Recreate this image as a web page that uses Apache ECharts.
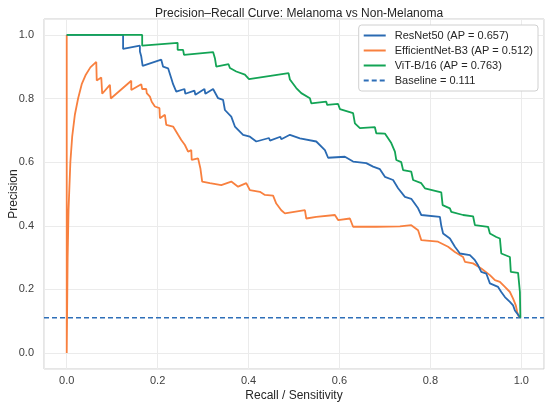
<!DOCTYPE html>
<html>
<head>
<meta charset="utf-8">
<script src="https://cdn.jsdelivr.net/npm/echarts@6/dist/echarts.min.js"></script>
<style>
  html, body { margin: 0; padding: 0; background: #fff; }
  #main { width: 550px; height: 406px; }
</style>
</head>
<body>
<div id="main"></div>
<script>
// [recall, precision]
var resnetPts = [
  [0, 1.0], [0.124, 1.0], [0.124, 0.956], [0.161, 0.966], [0.161, 0.948], [0.164, 0.932],
  [0.167, 0.903], [0.208, 0.922], [0.212, 0.900], [0.223, 0.895], [0.230, 0.864], [0.234, 0.845],
  [0.241, 0.822], [0.259, 0.830], [0.261, 0.815], [0.281, 0.825], [0.283, 0.812], [0.303, 0.830],
  [0.305, 0.815], [0.322, 0.830], [0.333, 0.801], [0.344, 0.796], [0.348, 0.764], [0.362, 0.743],
  [0.370, 0.712], [0.388, 0.686], [0.403, 0.680], [0.417, 0.665], [0.445, 0.676], [0.447, 0.668],
  [0.470, 0.680], [0.472, 0.672], [0.491, 0.686], [0.513, 0.675], [0.549, 0.665], [0.568, 0.638],
  [0.575, 0.614], [0.612, 0.617], [0.630, 0.602], [0.659, 0.597], [0.674, 0.586], [0.689, 0.578],
  [0.700, 0.554], [0.718, 0.544], [0.729, 0.518], [0.744, 0.491], [0.758, 0.485], [0.773, 0.455],
  [0.780, 0.434], [0.821, 0.428], [0.824, 0.400], [0.828, 0.376], [0.843, 0.360], [0.854, 0.334],
  [0.865, 0.313], [0.887, 0.308], [0.898, 0.292], [0.905, 0.276], [0.912, 0.255], [0.923, 0.250],
  [0.931, 0.219], [0.949, 0.208], [0.956, 0.192], [0.964, 0.176], [0.975, 0.161], [0.982, 0.150],
  [0.986, 0.134], [0.997, 0.113]
];

var effnetPts = [
  [0, 1.0], [0, 0.0], [0.002, 0.30], [0.004, 0.45], [0.008, 0.60], [0.012, 0.68], [0.018, 0.75],
  [0.025, 0.80], [0.033, 0.845], [0.042, 0.875], [0.052, 0.898], [0.065, 0.915], [0.066, 0.857],
  [0.076, 0.866], [0.078, 0.815], [0.095, 0.843], [0.097, 0.800], [0.142, 0.856], [0.142, 0.827],
  [0.164, 0.845], [0.166, 0.830], [0.175, 0.830], [0.176, 0.817], [0.183, 0.806], [0.187, 0.790],
  [0.194, 0.775], [0.204, 0.770], [0.205, 0.738], [0.216, 0.749], [0.219, 0.717], [0.234, 0.712],
  [0.245, 0.686], [0.252, 0.670], [0.260, 0.654], [0.267, 0.633], [0.274, 0.638], [0.275, 0.607],
  [0.289, 0.612], [0.294, 0.581], [0.298, 0.539], [0.315, 0.534], [0.340, 0.528], [0.362, 0.539],
  [0.377, 0.523], [0.395, 0.534], [0.403, 0.512], [0.425, 0.507], [0.436, 0.497], [0.454, 0.495],
  [0.461, 0.470], [0.472, 0.449], [0.480, 0.439], [0.524, 0.449], [0.527, 0.423], [0.549, 0.428],
  [0.590, 0.434], [0.597, 0.418], [0.623, 0.423], [0.630, 0.397], [0.681, 0.397], [0.733, 0.398],
  [0.758, 0.402], [0.773, 0.386], [0.780, 0.355], [0.817, 0.350], [0.839, 0.334], [0.854, 0.318],
  [0.872, 0.302], [0.876, 0.287], [0.894, 0.282], [0.912, 0.266], [0.931, 0.245], [0.942, 0.229],
  [0.953, 0.224], [0.964, 0.208], [0.975, 0.192], [0.982, 0.171], [0.988, 0.150], [0.991, 0.129],
  [0.995, 0.113]
];

var vitPts = [
  [0, 1.0], [0.166, 1.0], [0.166, 0.966], [0.244, 0.975], [0.244, 0.953], [0.256, 0.953],
  [0.258, 0.937], [0.322, 0.946], [0.326, 0.927], [0.329, 0.900], [0.356, 0.908], [0.359, 0.896],
  [0.373, 0.885], [0.392, 0.875], [0.401, 0.861], [0.488, 0.880], [0.491, 0.860], [0.505, 0.833],
  [0.516, 0.817], [0.535, 0.801], [0.538, 0.785], [0.571, 0.790], [0.573, 0.780], [0.597, 0.783],
  [0.601, 0.767], [0.630, 0.754], [0.634, 0.722], [0.645, 0.707], [0.678, 0.710], [0.681, 0.691],
  [0.700, 0.690], [0.707, 0.675], [0.714, 0.660], [0.722, 0.633], [0.725, 0.607], [0.736, 0.600],
  [0.740, 0.575], [0.758, 0.570], [0.762, 0.544], [0.780, 0.534], [0.788, 0.518], [0.824, 0.505],
  [0.827, 0.465], [0.843, 0.455], [0.846, 0.444], [0.872, 0.434], [0.894, 0.430], [0.898, 0.402],
  [0.927, 0.397], [0.931, 0.376], [0.945, 0.365], [0.953, 0.360], [0.956, 0.313], [0.975, 0.302],
  [0.977, 0.255], [0.993, 0.252], [0.997, 0.192], [0.998, 0.111]
];

var baselineValue = 0.111;
var seriesNames = ['ResNet50 (AP = 0.657)', 'EfficientNet-B3 (AP = 0.512)', 'ViT-B/16 (AP = 0.763)', 'Baseline = 0.111'];

var myChart = echarts.init(document.getElementById('main'));

var fontFamily = '"Liberation Sans", Arial, sans-serif';

function tickLabel(v) {
    var k = Math.round(v * 5);
    if (Math.abs(v * 5 - k) > 1e-6) return '';
    return v.toFixed(1);
}

var option = {
    animation: false,
    textStyle: { fontFamily: fontFamily },
    title: {
        text: 'Precision–Recall Curve: Melanoma vs Non-Melanoma',
        left: 150,
        top: 3,
        textStyle: { fontSize: 12, fontWeight: 'normal', color: '#262626', fontFamily: fontFamily }
    },
    grid: {
        left: 44, right: 6, top: 19, bottom: 37,
        outerBoundsMode: 'none',
        containLabel: false,
        show: true, borderColor: '#cccccc', borderWidth: 1, backgroundColor: '#ffffff'
    },
    legend: {
        orient: 'vertical',
        right: 12,
        top: 25,
        itemWidth: 22,
        itemHeight: 10,
        itemGap: 4,
        padding: [5, 5, 5, 4],
        backgroundColor: '#ffffff',
        borderColor: '#d0d0d0',
        borderWidth: 1,
        borderRadius: 3,
        itemStyle: { opacity: 0 },
        textStyle: { fontSize: 11, color: '#262626', fontFamily: fontFamily, padding: [0, 0, 0, 4] },
        data: seriesNames
    },
    xAxis: {
        type: 'value',
        min: -0.05,
        max: 1.05,
        splitNumber: 5,
        name: 'Recall / Sensitivity',
        nameLocation: 'middle',
        nameGap: 21,
        nameMoveOverlap: false,
        nameTextStyle: { fontSize: 12, color: '#262626' },
        axisLine: { show: false },
        axisTick: { show: false },
        axisLabel: { showMinLabel: false, showMaxLabel: false, margin: 6, fontSize: 11, color: '#404040', formatter: tickLabel },
        splitLine: { lineStyle: { color: '#ebebeb', width: 1 } }
    },
    yAxis: {
        type: 'value',
        min: -0.05,
        max: 1.05,
        splitNumber: 5,
        name: 'Precision',
        nameLocation: 'middle',
        nameGap: 24,
        nameMoveOverlap: false,
        nameTextStyle: { fontSize: 12, color: '#262626' },
        axisLine: { show: false },
        axisTick: { show: false },
        axisLabel: { showMinLabel: false, showMaxLabel: false, margin: 10, fontSize: 11, color: '#404040', formatter: tickLabel },
        splitLine: { lineStyle: { color: '#ebebeb', width: 1 } }
    },
    series: [
        {
            name: seriesNames[0], type: 'line', data: resnetPts, symbol: 'none',
            lineStyle: { color: '#2a6ab2', width: 1.8 }, itemStyle: { color: '#2a6ab2' }, z: 3
        },
        {
            name: seriesNames[1], type: 'line', data: effnetPts, symbol: 'none',
            lineStyle: { color: '#f8803f', width: 1.8 }, itemStyle: { color: '#f8803f' }, z: 2
        },
        {
            name: seriesNames[2], type: 'line', data: vitPts, symbol: 'none',
            lineStyle: { color: '#13a455', width: 1.8 }, itemStyle: { color: '#13a455' }, z: 4
        },
        {
            name: seriesNames[3], type: 'line', data: [[-0.05, baselineValue], [1.05, baselineValue]], symbol: 'none',
            lineStyle: { color: '#2e6fb8', width: 1.3, type: [5, 3] }, itemStyle: { color: '#2e6fb8' }, z: 1
        }
    ]
};

myChart.setOption(option);
</script>
</body>
</html>
